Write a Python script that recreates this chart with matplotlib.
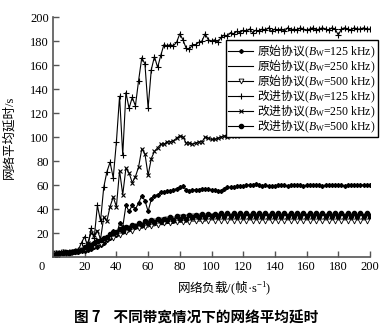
import matplotlib
matplotlib.use("Agg")
import matplotlib.pyplot as plt
import matplotlib.transforms as mtransforms

plt.rcParams['font.family'] = ['Liberation Serif', 'Noto Sans CJK SC']
# Chinese inside mathtext strings goes through \mathsf
plt.rcParams['mathtext.fontset'] = 'custom'
plt.rcParams['mathtext.rm'] = 'Liberation Serif'
plt.rcParams['mathtext.it'] = 'Liberation Serif:italic'
plt.rcParams['mathtext.sf'] = 'Noto Sans CJK SC'

# network load (frames/s)
load = list(range(2, 201, 2))

# improved protocol, Bw=125 kHz
imp_125 = [3, 3, 4, 3, 4, 4, 5, 6, 12, 17,
           8, 24, 16, 43, 30, 58, 71, 79, 66, 96,
           134, 85, 137, 124, 133, 126, 147, 166, 161, 124,
           156, 167, 158, 168, 177, 176, 177, 176, 179, 186,
           181, 174, 173, 177, 177, 179, 180, 186, 181, 180,
           181, 179, 183, 185, 184, 187, 186, 188, 187, 189,
           188, 190, 187, 189, 188, 190, 189, 191, 188, 190,
           189, 190, 188, 191, 189, 190, 189, 191, 190, 189,
           190, 191, 189, 190, 191, 190, 189, 191, 190, 185,
           190, 191, 190, 189, 191, 190, 190, 191, 190, 190]

# improved protocol, Bw=250 kHz
imp_250 = [3, 3, 3, 4, 3, 4, 4, 5, 6, 8,
           12, 20, 18, 22, 15, 33, 30, 42, 50, 42,
           72, 52, 74, 70, 62, 67, 75, 90, 86, 68,
           82, 88, 91, 94, 94, 96, 96, 97, 99, 101,
           100, 95, 95, 94, 95, 96, 96, 100, 99, 98,
           98, 99, 100, 101, 100, 101, 102, 101, 102, 102,
           103, 102, 103, 102, 103, 103, 102, 103, 103, 102,
           103, 103, 102, 103, 103, 103, 102, 103, 103, 103,
           102, 103, 103, 103, 102, 103, 103, 103, 103, 102,
           103, 103, 103, 103, 102, 103, 103, 103, 103, 103]

# original protocol, Bw=125 kHz
orig_125 = [2, 3, 3, 3, 3, 4, 4, 4, 5, 5,
            6, 7, 8, 8, 10, 12, 14, 16, 22, 18,
            28, 25, 43, 38, 43, 40, 45, 51, 47, 38,
            48, 51, 52, 54, 54, 55, 55, 56, 57, 58,
            59, 56, 55, 56, 56, 56, 57, 57, 57, 56,
            56, 55, 55, 57, 58, 58, 58, 59, 59, 59,
            60, 60, 60, 61, 60, 59, 60, 59, 59, 59,
            60, 60, 60, 59, 60, 60, 60, 60, 59, 60,
            60, 60, 60, 60, 59, 60, 60, 60, 60, 60,
            60, 59, 60, 60, 60, 60, 60, 60, 60, 60]

# original protocol, Bw=250 kHz
orig_250 = [2, 2, 2, 3, 3, 3, 3, 4, 4, 5,
            6, 7, 8, 9, 10, 12, 13, 15, 16, 17,
            18, 19, 20, 21, 22, 23, 24, 24, 25, 25,
            26, 26, 27, 27, 27, 28, 28, 28, 29, 29,
            29, 29, 30, 30, 30, 30, 30, 30, 31, 31,
            31, 31, 31, 31, 31, 31, 31, 31, 31, 31,
            31, 31, 31, 31, 31, 31, 31, 31, 31, 31,
            31, 31, 31, 31, 31, 31, 31, 31, 31, 31,
            31, 31, 31, 31, 31, 31, 31, 31, 31, 31,
            31, 31, 31, 31, 31, 31, 31, 31, 31, 31]

# original protocol, Bw=500 kHz
orig_500 = [3, 2, 4, 3, 3, 4, 4, 5, 6, 7,
            8, 10, 9, 12, 11, 14, 15, 17, 16, 19,
            18, 22, 21, 24, 22, 26, 24, 27, 25, 29,
            26, 30, 27, 31, 28, 32, 28, 32, 29, 33,
            29, 33, 29, 34, 30, 34, 30, 34, 30, 34,
            30, 34, 30, 34, 30, 34, 30, 34, 30, 34,
            30, 34, 30, 34, 30, 34, 30, 34, 30, 34,
            30, 34, 30, 34, 30, 34, 30, 34, 30, 34,
            30, 34, 30, 34, 30, 34, 30, 34, 30, 34,
            30, 34, 30, 34, 30, 34, 30, 34, 30, 34]

# improved protocol, Bw=500 kHz
imp_500 = [2, 3, 3, 4, 3, 4, 5, 5, 6, 8,
           9, 10, 12, 13, 14, 16, 17, 19, 20, 21,
           23, 22, 25, 24, 27, 26, 28, 27, 30, 28,
           31, 29, 32, 30, 32, 31, 33, 31, 34, 32,
           34, 32, 35, 33, 35, 33, 36, 33, 36, 34,
           36, 34, 37, 34, 37, 34, 37, 34, 37, 34,
           37, 34, 37, 34, 37, 34, 37, 34, 37, 34,
           37, 34, 37, 34, 37, 34, 37, 34, 37, 34,
           37, 34, 37, 34, 37, 34, 37, 34, 37, 34,
           37, 34, 37, 34, 37, 34, 37, 34, 37, 34]

bw = r'$B_{\mathrm{W}}$'
orig = r'$\mathsf{原始协议}$'
imp = r'$\mathsf{改进协议}$'
labels = [orig + '(' + bw + '=125 kHz)', orig + '(' + bw + '=250 kHz)',
          orig + '(' + bw + '=500 kHz)', imp + '(' + bw + '=125 kHz)',
          imp + '(' + bw + '=250 kHz)', imp + '(' + bw + '=500 kHz)']

fig = plt.figure(figsize=(3.86, 3.30), dpi=100)
ax = fig.add_axes([53/386, 73/330, 317/386, 240/330])

lw = 0.8
ax.plot(load, orig_125, color='black', lw=lw, marker='D', ms=2, label=labels[0])
ax.plot(load, orig_250, color='black', lw=lw, label=labels[1])
ax.plot(load, orig_500, color='black', lw=lw, marker='v', ms=3.5, mfc='white',
        mew=0.6, label=labels[2])
ax.plot(load, imp_125, color='black', lw=lw, marker='+', ms=5, mew=0.8, label=labels[3])
ax.plot(load, imp_250, color='black', lw=lw, marker='x', ms=2.5, mew=0.8, label=labels[4])
ax.plot(load, imp_500, color='black', lw=lw, marker='o', ms=3, label=labels[5])

ax.set_xlim(0, 200)
ax.set_ylim(0, 200)
ax.set_xticks(range(0, 201, 20))
ax.set_yticks(range(20, 201, 20))
for s in ['top', 'right']:
    ax.spines[s].set_visible(False)
for s in ['left', 'bottom']:
    ax.spines[s].set_linewidth(1.2)
    ax.spines[s].set_color('#555555')
ax.tick_params(direction='in', length=4, width=1, color='#555555',
               labelsize=9, pad=3)

# shift the origin label to the left, as in the original figure
offset = mtransforms.ScaledTranslation(-11/100, 0, fig.dpi_scale_trans)
lab0 = ax.get_xticklabels()[0]
lab0.set_transform(lab0.get_transform() + offset)

ax.set_xlabel(r'$\mathsf{网络负载}$/($\mathsf{帧}$·s$^{-1}$)', fontsize=9)
ax.xaxis.set_label_coords(0.54, -0.09)
ax.set_ylabel('网络平均延时/s', fontsize=9)
ax.yaxis.set_label_coords(-0.12, 0.5)

ax.legend(loc='upper right', bbox_to_anchor=(378/386, 290/330),
          bbox_transform=fig.transFigure, fontsize=8.5, frameon=True,
          fancybox=False, edgecolor='black', framealpha=1,
          labelspacing=-0.2, handlelength=2.1, handletextpad=0.35,
          borderpad=0.2, borderaxespad=0)

fig.text(196/386, 1 - 318/330, '图 7    不同带宽情况下的网络平均延时',
         ha='center', va='center', fontsize=10.5, fontweight='bold',
         family=['Noto Sans CJK SC', 'DejaVu Sans'])

fig.savefig('out.png', dpi=100)
